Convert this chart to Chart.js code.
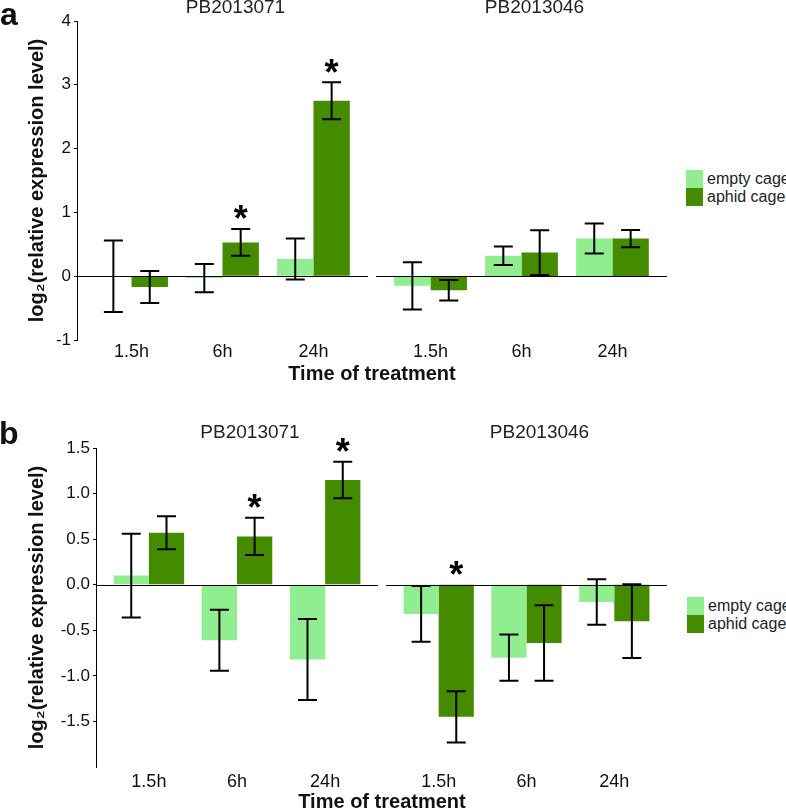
<!DOCTYPE html>
<html>
<head>
<meta charset="utf-8">
<script src="https://cdn.jsdelivr.net/npm/chart.js@4.4.1/dist/chart.umd.min.js"></script>
<style>
  body { margin: 0; background: #fff; }
  #wrap { position: relative; width: 786px; height: 809px; overflow: hidden; font-family: "Liberation Sans", Arial, sans-serif; }
  canvas { position: absolute; }
  .txt { position: absolute; white-space: nowrap; color: #111; }
  .letter { font-weight: bold; font-size: 32px; line-height: 32px; }
  .xtitle { font-weight: bold; font-size: 20px; line-height: 20px; width: 400px; text-align: center; }
  .legend { position: absolute; width: 110px; font-size: 16px; color: #222; white-space: nowrap; }
  .legend div { height: 18px; line-height: 18px; display: flex; align-items: center; }
  .legend span.box { display: inline-block; flex: none; width: 17px; height: 18px; margin-right: 4px; }
</style>
</head>
<body>
<div id="wrap">
  <canvas id="a1" width="372" height="365" style="left:0;top:0"></canvas>
  <canvas id="a2" width="300" height="365" style="left:372px;top:0"></canvas>
  <canvas id="b1" width="382" height="409" style="left:0;top:400px"></canvas>
  <canvas id="b2" width="290" height="409" style="left:382px;top:400px"></canvas>

  <div class="txt letter" style="left:0;top:-2px">a</div>
  <div class="txt letter" style="left:-1px;top:417px">b</div>
  <div class="txt xtitle" style="left:172px;top:363px">Time of treatment</div>
  <div class="txt xtitle" style="left:182px;top:791px">Time of treatment</div>

  <div class="legend" style="left:686px;top:170px">
    <div><span class="box" style="background:#90EE90"></span>empty cage</div>
    <div><span class="box" style="background:#458B00"></span>aphid cage</div>
  </div>
  <div class="legend" style="left:687px;top:597px">
    <div><span class="box" style="background:#90EE90"></span>empty cage</div>
    <div><span class="box" style="background:#458B00"></span>aphid cage</div>
  </div>
</div>

<script>
// categories
const timePoints = ['1.5h', '6h', '24h'];
const seriesNames = ['empty cage', 'aphid cage'];
const geneNames = ['PB2013071', 'PB2013046'];

// panel a, PB2013071
const a071Empty = [0.00, -0.03, 0.27];
const a071EmptySe = [0.56, 0.22, 0.32];
const a071Aphid = [-0.17, 0.53, 2.75];
const a071AphidSe = [0.25, 0.21, 0.29];
const a071Stars = [false, true, true];

// panel a, PB2013046
const a046Empty = [-0.15, 0.32, 0.59];
const a046EmptySe = [0.37, 0.145, 0.235];
const a046Aphid = [-0.22, 0.37, 0.59];
const a046AphidSe = [0.16, 0.35, 0.135];
const a046Stars = [false, false, false];

// panel b, PB2013071
const b071Empty = [0.10, -0.61, -0.82];
const b071EmptySe = [0.46, 0.335, 0.445];
const b071Aphid = [0.57, 0.53, 1.15];
const b071AphidSe = [0.18, 0.205, 0.20];
const b071Stars = [false, true, true];

// panel b, PB2013046
const b046Empty = [-0.32, -0.80, -0.19];
const b046EmptySe = [0.305, 0.255, 0.25];
const b046Aphid = [-1.45, -0.64, -0.40];
const b046AphidSe = [0.28, 0.415, 0.405];
const b046Stars = [true, false, false];

// y axis ranges
const aYMin = -1, aYMax = 4, aYStep = 1;
const bYMin = -2, bYMax = 1.5, bYStep = 0.5;

const lightGreen = '#90EE90';
const darkGreen = '#458B00';

Chart.defaults.font.family = '"Liberation Sans", Arial, sans-serif';
Chart.defaults.color = '#111';

// zero line, error bars, significance stars and strip title
const extrasPlugin = {
  id: 'extras',
  afterDatasetsDraw(chart) {
    const ctx = chart.ctx;
    const area = chart.chartArea;
    const y = chart.scales.y;
    ctx.save();
    // zero line
    ctx.strokeStyle = '#000';
    ctx.lineWidth = 1;
    const y0 = Math.round(y.getPixelForValue(0)) + 0.5;
    ctx.beginPath();
    ctx.moveTo(area.left, y0);
    ctx.lineTo(area.right, y0);
    ctx.stroke();

    ctx.lineWidth = 2;
    chart.data.datasets.forEach((ds, i) => {
      const meta = chart.getDatasetMeta(i);
      meta.data.forEach((bar, j) => {
        const m = ds.data[j].y;
        const s = ds.se[j];
        const top = y.getPixelForValue(m + s);
        const bot = y.getPixelForValue(m - s);
        const cx = bar.x;
        ctx.beginPath();
        ctx.moveTo(cx, top); ctx.lineTo(cx, bot);
        ctx.moveTo(cx - 9.5, top); ctx.lineTo(cx + 9.5, top);
        ctx.moveTo(cx - 9.5, bot); ctx.lineTo(cx + 9.5, bot);
        ctx.stroke();
        if (ds.stars && ds.stars[j]) {
          const sy = y.getPixelForValue(Math.max(0, m + s)) - 14.5;
          ctx.fillStyle = '#000';
          ctx.font = 'bold 36px "Liberation Sans", Arial, sans-serif';
          ctx.textAlign = 'center';
          ctx.textBaseline = 'alphabetic';
          ctx.fillText('*', cx, sy + 17);
        }
      });
    });

    // strip title
    const opt = chart.options.plugins.extras;
    ctx.fillStyle = '#222';
    ctx.font = '19px "Liberation Sans", Arial, sans-serif';
    ctx.textAlign = 'center';
    ctx.textBaseline = 'alphabetic';
    ctx.fillText(opt.title, (area.left + area.right) / 2 + 13, opt.titleBaseline);
    ctx.restore();
  }
};

function makeChart(id, cfg) {
  const toPoints = arr => arr.map((v, i) => ({ x: i + 1, y: v }));
  new Chart(document.getElementById(id), {
    type: 'bar',
    data: {
      datasets: [
        { label: seriesNames[0], data: toPoints(cfg.empty), se: cfg.emptySe,
          backgroundColor: lightGreen, borderWidth: 0 },
        { label: seriesNames[1], data: toPoints(cfg.aphid), se: cfg.aphidSe, stars: cfg.stars,
          backgroundColor: darkGreen, borderWidth: 0 }
      ]
    },
    options: {
      responsive: false,
      animation: false,
      categoryPercentage: 0.8,
      barPercentage: 1.0,
      layout: { padding: cfg.padding },
      plugins: {
        legend: { display: false },
        tooltip: { enabled: false },
        extras: { title: cfg.title, titleBaseline: cfg.titleBaseline }
      },
      scales: {
        x: {
          type: 'linear',
          offset: false,
          min: 0.4,
          max: 3.6,
          grid: { display: false, drawTicks: false },
          border: { display: false },
          afterBuildTicks: scale => { scale.ticks = timePoints.map((t, i) => ({ value: i + 1 })); },
          afterFit: scale => { scale.height = cfg.xHeight; },
          ticks: {
            autoSkip: false,
            maxRotation: 0,
            padding: cfg.xPad,
            color: '#111',
            font: { size: 18 },
            callback: v => timePoints[v - 1]
          }
        },
        y: {
          display: cfg.showY,
          min: cfg.yMin,
          max: cfg.yMax,
          grid: { drawOnChartArea: false, drawTicks: true, tickLength: 3, color: '#000' },
          border: { display: true, color: '#000', width: 1 },
          afterFit: scale => { scale.width = cfg.yWidth; },
          title: {
            display: cfg.showY,
            text: 'log₂(relative expression level)',
            color: '#111',
            font: { size: 20, weight: 'bold' },
            padding: { top: 25, bottom: 0 }
          },
          ticks: {
            stepSize: cfg.yStep,
            padding: 3,
            color: '#111',
            font: { size: 17 },
            callback: cfg.tickFmt
          }
        }
      }
    },
    plugins: [extrasPlugin]
  });
}

const aFmt = v => String(v);
const bFmt = v => (v < -1.75 ? null : v.toFixed(1));

makeChart('a1', {
  empty: a071Empty, emptySe: a071EmptySe, aphid: a071Aphid, aphidSe: a071AphidSe, stars: a071Stars,
  yMin: aYMin, yMax: aYMax, yStep: aYStep, tickFmt: aFmt, showY: true, yWidth: 77,
  padding: { top: 21, right: 4, bottom: 0, left: 0 }, xHeight: 25, xPad: 1,
  title: geneNames[0], titleBaseline: 13
});
makeChart('a2', {
  empty: a046Empty, emptySe: a046EmptySe, aphid: a046Aphid, aphidSe: a046AphidSe, stars: a046Stars,
  yMin: aYMin, yMax: aYMax, yStep: aYStep, tickFmt: aFmt, showY: false, yWidth: 0,
  padding: { top: 21, right: 5, bottom: 0, left: 4 }, xHeight: 25, xPad: 1,
  title: geneNames[1], titleBaseline: 13
});
makeChart('b1', {
  empty: b071Empty, emptySe: b071EmptySe, aphid: b071Aphid, aphidSe: b071AphidSe, stars: b071Stars,
  yMin: bYMin, yMax: bYMax, yStep: bYStep, tickFmt: bFmt, showY: true, yWidth: 96,
  padding: { top: 48, right: 4, bottom: 0, left: 0 }, xHeight: 42, xPad: 4,
  title: geneNames[0], titleBaseline: 38
});
makeChart('b2', {
  empty: b046Empty, emptySe: b046EmptySe, aphid: b046Aphid, aphidSe: b046AphidSe, stars: b046Stars,
  yMin: bYMin, yMax: bYMax, yStep: bYStep, tickFmt: bFmt, showY: false, yWidth: 0,
  padding: { top: 48, right: 5, bottom: 0, left: 4 }, xHeight: 42, xPad: 4,
  title: geneNames[1], titleBaseline: 38
});
</script>
</body>
</html>
